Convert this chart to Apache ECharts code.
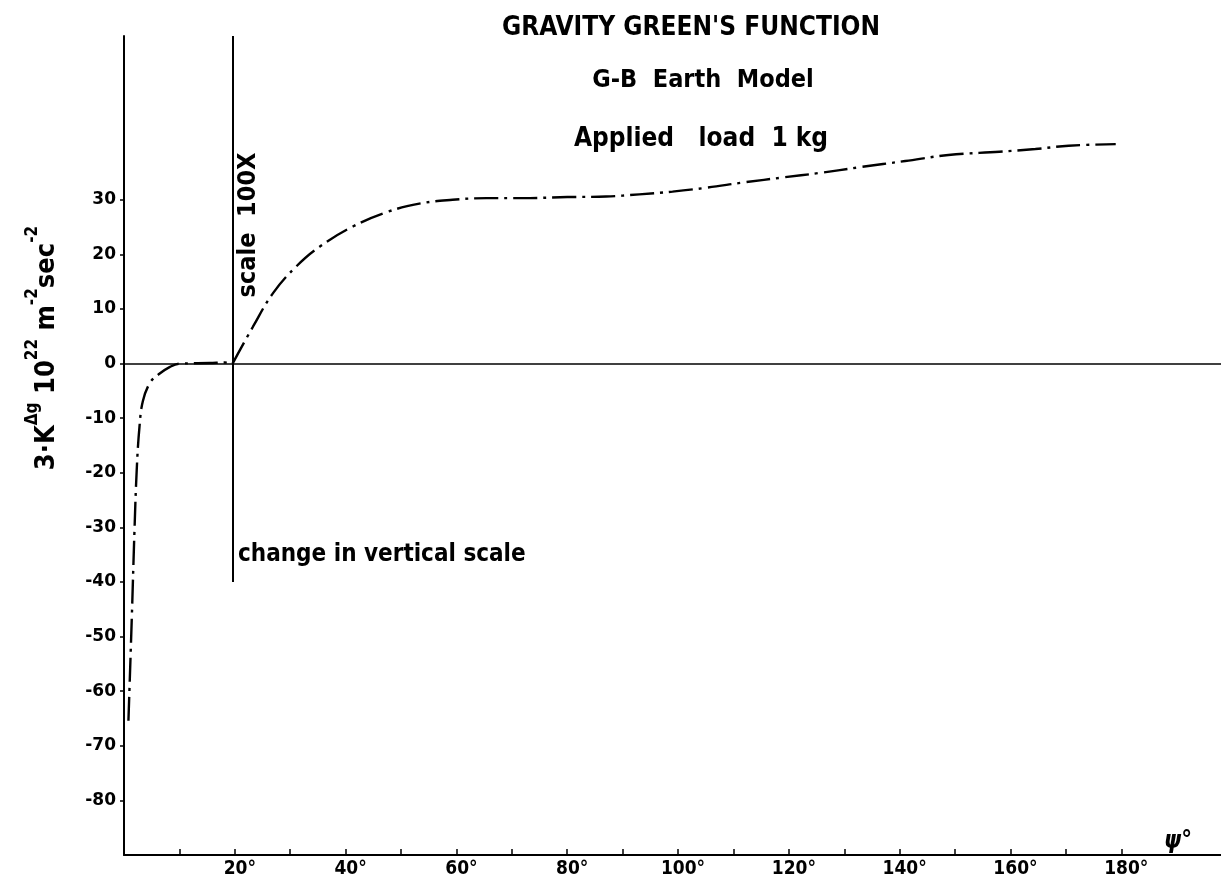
<!DOCTYPE html>
<html>
<head>
<meta charset="utf-8">
<title>Gravity Green's Function</title>
<script src="https://cdn.jsdelivr.net/npm/echarts@6/dist/echarts.min.js"></script>
<style>
  html, body { margin: 0; padding: 0; background: #fff; }
  #chart { width: 1221px; height: 884px; }
</style>
</head>
<body>
<div id="chart"></div>
<script>
// Angular distance (degrees) of the tick marks and labels
const xTickValues = [10, 20, 30, 40, 50, 60, 70, 80, 90, 100, 110, 120, 130, 140, 150, 160, 170, 180];
const xLabelValues = [20, 40, 60, 80, 100, 120, 140, 160, 180];
const yTickValues = [30, 20, 10, 0, -10, -20, -30, -40, -50, -60, -70, -80];

// Near field (0°–20°), true vertical scale
const nearField = [
  [0.8, -65.4], [1.4, -46.8], [1.9, -30.3], [2.3, -19.4], [2.8, -11.5],
  [3.4, -6.9], [4.7, -3.5], [6.2, -2.0], [8.3, -0.6], [10.1, 0.0],
  [15.5, 0.1], [18.2, 0.2], [19.6, 0.0]
];

// Far field (20°–180°), vertical scale magnified 100x
const farField = [
  [19.6, 0.0], [23.3, 6.8], [26.9, 12.9], [31.1, 17.8], [35.3, 21.4],
  [41.3, 25.1], [47.3, 27.7], [53.3, 29.3], [59.3, 30.0], [65.4, 30.3],
  [72, 30.3], [80, 30.5], [87, 30.6], [93, 31.0], [99, 31.5],
  [105, 32.2], [112, 33.2], [119, 34.1], [125.4, 34.9], [133, 36.0],
  [141, 37.1], [148.8, 38.2], [158, 38.8], [164.5, 39.3], [170.5, 39.9],
  [179, 40.2]
];

// Where the vertical scale changes, and how far the marker line runs
const scaleChangeDeg = 19.6;
const scaleChangeTop = 60;
const scaleChangeBottom = -40;

const INK = '#000';
const COND = '"DejaVu Sans Condensed", "DejaVu Sans", sans-serif';
const dashDot = [24, 6, 3, 6];

const chart = echarts.init(document.getElementById('chart'), null, { renderer: 'canvas' });

chart.setOption({
  backgroundColor: '#fff',
  animation: false,
  grid: { left: 124, right: 0, top: 36, bottom: 29, containLabel: false },
  xAxis: {
    type: 'value',
    min: 0,
    max: 198,
    interval: 10,
    splitLine: { show: false },
    axisLine: { show: true, onZero: false, lineStyle: { color: INK, width: 2 } },
    axisTick: {
      show: true, inside: true, length: 6,
      customValues: xTickValues,
      lineStyle: { color: INK, width: 1.5 }
    },
    axisLabel: {
      customValues: xLabelValues,
      margin: 5,
      color: INK,
      fontFamily: COND,
      fontWeight: 'bold',
      fontSize: 19,
      padding: [0, 0, 0, 10],
      formatter: v => v + '°'
    }
  },
  yAxis: {
    type: 'value',
    min: -90,
    max: 60,
    interval: 10,
    splitLine: { show: false },
    axisLine: { show: true, onZero: false, lineStyle: { color: INK, width: 2 } },
    axisTick: {
      show: true, inside: false, length: 4,
      customValues: yTickValues,
      lineStyle: { color: INK, width: 1.5 }
    },
    axisLabel: {
      customValues: yTickValues,
      margin: 8,
      color: INK,
      fontFamily: '"DejaVu Sans", sans-serif',
      fontWeight: 'bold',
      fontSize: 17,
      formatter: v => String(v)
    }
  },
  series: [
    {
      name: 'near field',
      type: 'line',
      data: nearField,
      smooth: 0.4,
      showSymbol: false,
      lineStyle: { color: INK, width: 2.4, type: dashDot },
      z: 3
    },
    {
      name: 'far field (100x)',
      type: 'line',
      data: farField,
      smooth: 0.4,
      showSymbol: false,
      lineStyle: { color: INK, width: 2.4, type: dashDot },
      z: 3,
      markLine: {
        silent: true,
        symbol: 'none',
        label: { show: false },
        lineStyle: { color: INK, type: 'solid', width: 2 },
        data: [
          { yAxis: 0, lineStyle: { width: 1.6 } },
          [
            { coord: [scaleChangeDeg, scaleChangeTop] },
            { coord: [scaleChangeDeg, scaleChangeBottom] }
          ]
        ]
      }
    }
  ],
  graphic: [
    {
      type: 'text', x: 691, y: 28,
      style: {
        text: "GRAVITY GREEN'S FUNCTION",
        fill: INK, font: 'bold 26px ' + COND,
        align: 'center', verticalAlign: 'middle'
      }
    },
    {
      type: 'text', x: 703, y: 80,
      style: {
        text: 'G-B  Earth  Model',
        fill: INK, font: 'bold 25px ' + COND,
        align: 'center', verticalAlign: 'middle'
      }
    },
    {
      type: 'text', x: 701, y: 139,
      style: {
        text: 'Applied   load  1 kg',
        fill: INK, font: 'bold 26px ' + COND,
        align: 'center', verticalAlign: 'middle'
      }
    },
    {
      type: 'text', x: 248, y: 225, rotation: Math.PI / 2,
      style: {
        text: 'scale  100X',
        fill: INK, font: 'bold 25px ' + COND,
        align: 'center', verticalAlign: 'middle'
      }
    },
    {
      type: 'text', x: 238, y: 555,
      style: {
        text: 'change in vertical scale',
        fill: INK, font: 'bold 24px ' + COND,
        align: 'left', verticalAlign: 'middle'
      }
    },
    {
      type: 'text', x: 42, y: 348, rotation: Math.PI / 2,
      style: {
        text: '{b|3·K}{sup|Δg}{b| 10}{sup|22}{b| m}{sup|-2}{b|sec}{sup|-2}',
        fill: INK,
        align: 'center', verticalAlign: 'middle',
        rich: {
          b: { fontFamily: COND, fontWeight: 'bold', fontSize: 27, lineHeight: 36, verticalAlign: 'bottom', fill: INK },
          sup: { fontFamily: COND, fontWeight: 'bold', fontSize: 17, lineHeight: 17, verticalAlign: 'top', fill: INK }
        }
      }
    },
    {
      type: 'text', x: 1178, y: 842,
      style: {
        text: 'ψ°',
        fill: INK, font: 'italic bold 24px ' + COND,
        align: 'center', verticalAlign: 'middle'
      }
    }
  ]
});
</script>
</body>
</html>
